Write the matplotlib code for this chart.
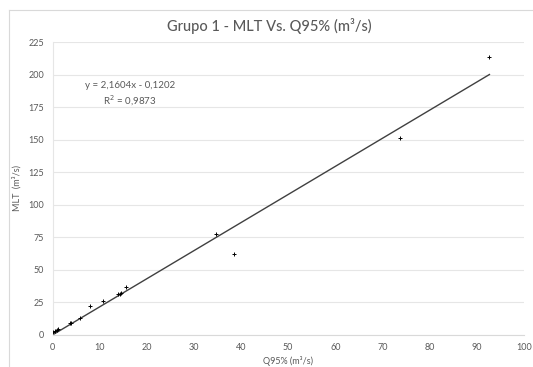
import numpy as np
import matplotlib.pyplot as plt
from matplotlib.lines import Line2D

# Q95% (x) and MLT (y)
q95 = [0.13, 0.5, 0.84, 1.2, 3.6, 3.98, 5.7, 8.0, 10.7, 13.9, 14.3, 14.6, 15.5,
       34.6, 38.4, 73.7, 92.7]
mlt = [2.3, 3.0, 3.6, 4.1, 9.2, 8.8, 13.0, 22.0, 25.9, 31.0, 31.3, 31.8, 36.4,
       77.5, 61.8, 151.5, 213.6]

slope, intercept = 2.1604, -0.1202
r2 = "0,9873"

x_ticks = list(range(0, 101, 10))
y_ticks = list(range(0, 226, 25))

gray = "#595959"
plt.rcParams["font.family"] = ["Lato", "DejaVu Sans"]

fig = plt.figure(figsize=(5.33, 3.67), dpi=100)
ax = fig.add_axes([0.0988, 0.088, 0.884, 0.797])

ax.scatter(q95, mlt, marker="+", s=9, color="black", linewidths=0.7, zorder=3)

xl = np.array([0, max(q95)])
ax.plot(xl, slope * xl + intercept, color="#404040", lw=1.0, zorder=2)

ax.text(16.4, 185, "y = 2,1604x - 0,1202\nR$^2$ = " + r2, ha="center", va="center",
        fontsize=7, color=gray, linespacing=1.3)

ax.set_xlim(0, 100)
ax.set_ylim(0, 225)
ax.set_xticks(x_ticks)
ax.set_yticks(y_ticks)
ax.tick_params(length=0, labelsize=6.5, labelcolor=gray, pad=6)
ax.grid(axis="y", color="#e6e6e6", lw=0.8)
ax.set_axisbelow(True)
for s in ["top", "right"]:
    ax.spines[s].set_visible(False)
ax.spines["left"].set_color("#e6e6e6")
ax.spines["bottom"].set_color("#d9d9d9")

ax.set_xlabel("Q95% (m³/s)", fontsize=6.5, color=gray, labelpad=3)
ax.set_ylabel("MLT  (m³/s)", fontsize=6.5, color=gray, labelpad=6)
ax.yaxis.set_label_coords(-0.065, 0.5)

fig.text(0.505, 0.929, "Grupo 1 - MLT Vs. Q95% (m³/s)", ha="center", va="center",
         fontsize=10.5, color=gray, fontweight="medium")

# chart area border (top and left edges visible)
fig.add_artist(Line2D([0.017, 1.0], [0.973, 0.973], color="#d9d9d9", lw=0.8))
fig.add_artist(Line2D([0.017, 0.017], [0.0, 0.973], color="#d9d9d9", lw=0.8))

fig.savefig("out.png", dpi=100)
